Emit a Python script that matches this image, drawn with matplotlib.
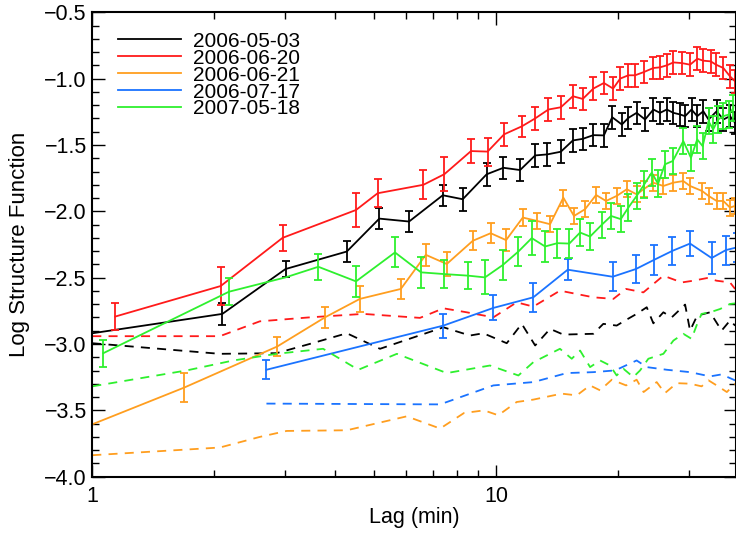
import numpy as np
import matplotlib
matplotlib.use("Agg")
import matplotlib.pyplot as plt
from matplotlib.ticker import LogLocator, FixedLocator, FixedFormatter, NullFormatter, MultipleLocator, FuncFormatter

plt.rcParams['font.family'] = ['Liberation Sans', 'DejaVu Sans']

nan = np.nan

# --- 2006-05-03 (black) ---
lag_0503 = [1.0, 2.10, 3.01, 4.27, 5.14, 6.09, 7.38, 8.27, 9.48, 10.43, 11.47, 12.5, 13.4, 14.47,
            15.5, 16.4, 17.42, 18.5, 19.4, 20.5, 21.27, 22.3, 23.4, 24.53, 25.48, 26.48, 27.5,
            28.56, 29.4, 30.5, 31.5, 32.62, 33.6, 35.2, 36.56, 37.98, 39.1]
sf_0503 = [-2.919, -2.773, -2.435, -2.303, -2.055, -2.077, -1.879, -1.909, -1.721, -1.672, -1.689,
           -1.579, -1.571, -1.551, -1.466, -1.454, -1.426, -1.428, -1.291, -1.346, -1.296, -1.258,
           -1.308, -1.233, -1.258, -1.233, -1.258, -1.27, -1.283, -1.233, -1.283, -1.246, -1.308,
           -1.246, -1.308, -1.283, -1.333]
err_0503 = [nan, 0.085, 0.063, 0.078, 0.081, 0.079, 0.079, 0.088, 0.085, 0.085, 0.085,
            0.085, 0.085, 0.085, 0.085, 0.085, 0.085, 0.085, 0.085, 0.085, 0.085, 0.085,
            0.085, 0.085, 0.085, 0.085, 0.085, 0.085, 0.085, 0.085, 0.085, 0.085, 0.085,
            0.085, 0.085, 0.085, 0.085]
lag_0503_n = [1.0, 2.07, 2.86, 3.46, 4.27, 5.16, 7.41, 8.62, 9.30, 10.63, 11.58, 12.5, 13.61, 14.68,
              17.42, 18.44, 19.9, 20.87, 22.3, 23.62, 24.53, 25.97, 27.24, 29.4, 30.24, 31.5,
              33.9, 36.2, 37.98, 39.1]
sf_0503_n = [-2.994, -3.074, -3.069, -2.999, -2.919, -3.036, -2.874, -2.936, -2.919, -2.994, -2.848,
             -3.011, -2.886, -2.929, -2.923, -2.848, -2.861, -2.823, -2.773, -2.723, -2.844, -2.761,
             -2.799, -2.703, -2.899, -2.786, -2.761, -2.899, -2.823, -2.861]

# --- 2006-06-20 (red) ---
lag_0620 = [1.14, 2.08, 2.96, 4.5, 5.09, 6.61, 7.45, 8.67, 9.53, 10.47, 11.58, 12.5, 13.48, 14.47,
            15.5, 16.4, 17.42, 18.5, 19.5, 20.3, 21.27, 22.1, 23.26, 24.53, 25.48, 26.48, 27.5,
            28.84, 30.24, 31.52, 32.62, 34.02, 35.07, 36.56, 37.98, 39.08]
sf_0620 = [-2.793, -2.563, -2.20, -1.99, -1.864, -1.80, -1.72, -1.546, -1.55, -1.42, -1.36, -1.30,
           -1.233, -1.216, -1.133, -1.153, -1.075, -1.033, -1.075, -1.0, -0.975, -0.975, -0.95,
           -0.92, -0.915, -0.90, -0.878, -0.883, -0.895, -0.85, -0.865, -0.87, -0.895, -0.92,
           -0.983, -1.02]
err_0620 = [0.10, 0.14, 0.10, 0.125, 0.105, 0.11, 0.13, 0.09, 0.105, 0.085, 0.08, 0.085, 0.085,
            0.085, 0.085, 0.085, 0.085, 0.085, 0.085, 0.085, 0.085, 0.085, 0.085, 0.085, 0.085,
            0.085, 0.085, 0.085, 0.085, 0.085, 0.085, 0.085, 0.085, 0.085, 0.085, 0.085]
lag_0620_n = [1.0, 2.07, 2.60, 3.46, 4.69, 6.48, 7.41, 8.46, 9.85, 11.25, 12.37, 14.4, 17.42, 19.53,
              21.0, 23.17, 25.97, 28.84, 30.8, 33.3, 35.2, 37.98, 39.1]
sf_0620_n = [-2.941, -2.941, -2.829, -2.799, -2.773, -2.803, -2.731, -2.761, -2.799, -2.686, -2.718,
             -2.598, -2.648, -2.66, -2.585, -2.611, -2.485, -2.536, -2.523, -2.503, -2.523, -2.536,
             -2.585]

# --- 2006-06-21 (orange) ---
lag_0621 = [1.0, 1.687, 2.87, 3.77, 4.60, 5.81, 6.70, 7.55, 8.76, 9.70, 10.59, 11.65, 12.62, 13.61,
            14.68, 15.6, 16.62, 17.69, 18.73, 19.9, 21.08, 22.3, 23.2, 24.5, 25.97, 27.5, 29.1,
            30.24, 32.4, 33.6, 35.2, 36.56, 37.98, 39.1]
sf_0621 = [-3.605, -3.329, -3.019, -2.799, -2.660, -2.585, -2.328, -2.397, -2.222, -2.165, -2.217,
           -2.047, -2.072, -2.097, -1.897, -2.035, -1.984, -1.877, -1.922, -1.884, -1.834, -1.872,
           -1.834, -1.784, -1.809, -1.784, -1.772, -1.809, -1.847, -1.884, -1.922, -1.922, -1.972,
           -1.959]
err_0621 = [nan, 0.11, 0.069, 0.081, 0.096, 0.075, 0.084, 0.094, 0.071, 0.075, 0.081, 0.063,
            0.06, 0.06, 0.06, 0.06, 0.06, 0.06, 0.06, 0.06, 0.06, 0.06, 0.06, 0.06, 0.06, 0.06,
            0.06, 0.06, 0.06, 0.06, 0.06, 0.06, 0.06, 0.06]
lag_0621_n = [1.0, 2.07, 2.60, 3.03, 4.27, 6.01, 7.27, 8.33, 9.34, 10.13, 11.25, 12.37, 14.54, 15.85,
              17.09, 18.1, 19.35, 21.0, 22.3, 23.2, 25.0, 26.2, 28.03, 30.24, 32.3, 33.6, 35.5,
              37.3, 39.1]
sf_0621_n = [-3.838, -3.78, -3.70, -3.655, -3.65, -3.545, -3.637, -3.52, -3.50, -3.537, -3.437,
             -3.419, -3.374, -3.387, -3.312, -3.349, -3.269, -3.312, -3.269, -3.362, -3.287, -3.37,
             -3.295, -3.299, -3.319, -3.274, -3.319, -3.362, -3.299]

# --- 2006-07-17 (blue) ---
lag_0717 = [2.70, 7.41, 9.85, 12.37, 15.05, 19.45, 22.2, 24.66, 27.34, 30.24, 34.2, 37.1, 39.5]
sf_0717 = [-3.194, -2.861, -2.728, -2.648, -2.44, -2.493, -2.435, -2.365, -2.298, -2.243, -2.352,
           -2.292, -2.272]
err_0717 = [0.073, 0.09, 0.094, 0.109, 0.079, 0.109, 0.108, 0.113, 0.103, 0.091, 0.119, 0.109, 0.11]
lag_0717_n = [2.70, 7.27, 9.85, 12.37, 14.97, 17.42, 19.72, 22.3, 23.62, 26.48, 30.24, 33.9, 36.2,
              39.1]
sf_0717_n = [-3.449, -3.455, -3.312, -3.287, -3.219, -3.212, -3.199, -3.124, -3.174, -3.194, -3.212,
             -3.244, -3.229, -3.274]

# --- 2007-05-18 (green) ---
lag_0518 = [1.065, 2.18, 3.01, 3.63, 4.5, 5.62, 6.52, 7.45, 8.54, 9.39, 10.39, 11.36, 12.26, 13.23,
            14.19, 15.19, 16.15, 17.1, 18.27, 19.27, 20.37, 21.27, 22.3, 23.3, 24.3, 25.2, 26.2,
            27.4, 29.1, 30.4, 31.5, 32.5, 33.6, 34.5, 35.5, 36.56, 37.8, 38.7]
sf_0518 = [-3.069, -2.606, -2.498, -2.418, -2.528, -2.31, -2.46, -2.473, -2.485, -2.498, -2.405,
           -2.303, -2.202, -2.265, -2.24, -2.243, -2.16, -2.19, -2.102, -2.035, -2.059, -1.972,
           -1.884, -1.796, -1.709, -1.792, -1.646, -1.621, -1.471, -1.597, -1.458, -1.509, -1.321,
           -1.383, -1.308, -1.283, -1.27, -1.221]
err_0518 = [0.103, 0.10, nan, 0.098, 0.119, 0.113, 0.118, 0.103, 0.10, 0.128, 0.113, 0.109, 0.128,
            0.12, 0.11, 0.11, 0.1, 0.1, 0.1, 0.1, 0.1, 0.1, 0.1, 0.1, 0.1, 0.1, 0.1, 0.1, 0.1, 0.1,
            0.1, 0.1, 0.1, 0.1, 0.1, 0.1, 0.1, 0.1]
lag_0518_n = [1.0, 1.713, 2.235, 2.86, 3.73, 4.56, 5.68, 7.55, 9.66, 11.36, 12.37, 14.4, 15.4, 16.15,
              17.1, 18.1, 19.16, 19.9, 20.67, 21.88, 22.74, 23.84, 25.97, 27.5, 29.1, 30.5, 31.5,
              32.3, 33.9, 35.9, 37.98, 39.1]
sf_0518_n = [-3.319, -3.199, -3.124, -3.074, -3.036, -3.194, -3.074, -3.219, -3.162, -3.237, -3.137,
             -3.036, -3.111, -3.049, -3.174, -3.124, -3.162, -3.237, -3.186, -3.249, -3.199, -3.111,
             -3.074, -2.974, -2.923, -2.961, -2.848, -2.773, -2.761, -2.736, -2.698, -2.694]

series = [
    ('2006-05-03', '#000000', lag_0503, sf_0503, err_0503, lag_0503_n, sf_0503_n),
    ('2006-06-20', '#ff1a1a', lag_0620, sf_0620, err_0620, lag_0620_n, sf_0620_n),
    ('2006-06-21', '#ff9e1f', lag_0621, sf_0621, err_0621, lag_0621_n, sf_0621_n),
    ('2006-07-17', '#1a73ff', lag_0717, sf_0717, err_0717, lag_0717_n, sf_0717_n),
    ('2007-05-18', '#2ef02e', lag_0518, sf_0518, err_0518, lag_0518_n, sf_0518_n),
]

fig = plt.figure(figsize=(7.36, 5.33), dpi=100)
ax = fig.add_axes([0.1254, 0.1056, 0.8746, 0.8714])

for label, color, lag, sf, err, lag_n, sf_n in series:
    ax.plot(lag, sf, color=color, lw=1.3, label=label)
    ax.errorbar(lag, sf, yerr=err, fmt='none', ecolor=color, elinewidth=1.3,
                capsize=3, capthick=1.3)
    ax.plot(lag_n, sf_n, color=color, lw=1.3, dashes=(5, 4))

ax.set_xscale('log')
ax.set_xlim(1, 39.3)
ax.set_ylim(-4.0, -0.5)

ax.xaxis.set_major_locator(FixedLocator([1, 10]))
ax.xaxis.set_major_formatter(FixedFormatter(['1', '10']))
ax.xaxis.set_minor_locator(LogLocator(base=10, subs=np.arange(2, 10)))
ax.xaxis.set_minor_formatter(NullFormatter())
ax.yaxis.set_major_locator(MultipleLocator(0.5))
ax.yaxis.set_minor_locator(MultipleLocator(0.1))
ax.yaxis.set_major_formatter(FuncFormatter(lambda v, p: f'{v:.1f}'.replace('-', '\u2212')))

ax.tick_params(which='both', direction='in', top=True, right=True, width=1.0, labelsize=15.5)
ax.tick_params(which='major', length=9)
ax.tick_params(which='minor', length=5)
ax.tick_params(axis='x', which='major', pad=7)
ax.tick_params(axis='y', which='major', pad=4)
for s in ax.spines.values():
    s.set_linewidth(1.5)

ax.set_xlabel('Lag (min)', fontsize=15.5, labelpad=0)
ax.set_ylabel('Log Structure Function', fontsize=16)
ax.yaxis.set_label_coords(-0.097, 0.5)

# IDL-style tight legend, entries nearly touching
ax.legend(loc='upper left', bbox_to_anchor=(0.040, 0.958), frameon=False, fontsize=15,
          handlelength=3.0, handletextpad=0.58, labelspacing=-0.1, borderpad=0, borderaxespad=0)

fig.savefig('out.png', dpi=100)
